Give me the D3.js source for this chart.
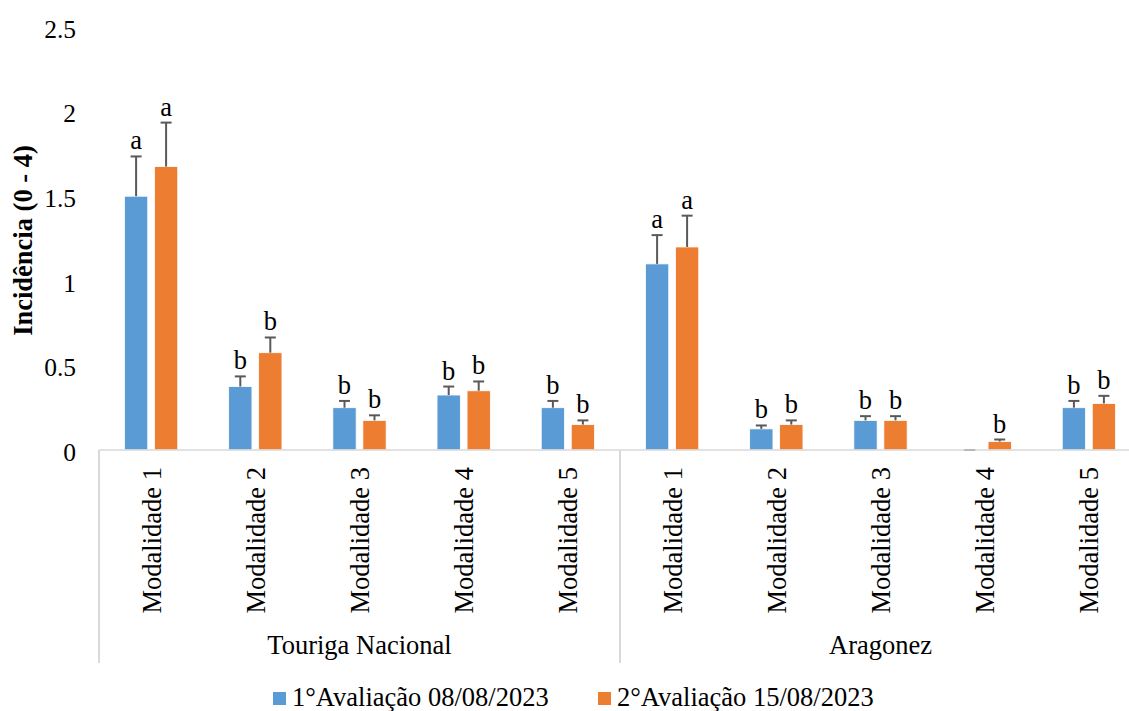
<!DOCTYPE html>
<html>
<head>
<meta charset="utf-8">
<script src="https://cdn.jsdelivr.net/npm/d3@7"></script>
<style>
  html, body { margin: 0; padding: 0; background: #fff; }
  svg { display: block; font-family: "Liberation Serif", "Times New Roman", serif; }
</style>
</head>
<body>
<svg id="chart" width="1129" height="711"></svg>
<script>
// Grupos (castas) e modalidades
const groups = ["Touriga Nacional", "Aragonez"];
const modalidades = ["Modalidade 1", "Modalidade 2", "Modalidade 3", "Modalidade 4", "Modalidade 5"];

// Séries
const seriesNames = ["1°Avaliação 08/08/2023", "2°Avaliação 15/08/2023"];
const seriesColors = ["#5B9BD5", "#ED7D31"];

// Médias de incidência (Touriga M1..M5, Aragonez M1..M5)
const aval1 = [1.5, 0.375, 0.25, 0.325, 0.25, 1.1, 0.125, 0.175, 0, 0.25];
const aval2 = [1.675, 0.575, 0.175, 0.35, 0.15, 1.2, 0.15, 0.175, 0.05, 0.275];

// Erro padrão
const err1 = [0.235, 0.06, 0.04, 0.05, 0.04, 0.17, 0.02, 0.025, 0, 0.04];
const err2 = [0.26, 0.09, 0.03, 0.055, 0.025, 0.185, 0.025, 0.025, 0.012, 0.045];

// Letras de significância
const letras1 = ["a", "b", "b", "b", "b", "a", "b", "b", "", "b"];
const letras2 = ["a", "b", "b", "b", "b", "a", "b", "b", "b", "b"];

// Eixo Y
const yTicks = [0, 0.5, 1, 1.5, 2, 2.5];
const yTitle = "Incidência (0 - 4)";

const svg = d3.select("#chart");
const fontSize = 26.5;
const tickFontSize = 25.5;

// Categorias combinadas grupo|modalidade
const cats = [];
groups.forEach(g => modalidades.forEach(m => cats.push({ group: g, mod: m, key: g + "|" + m })));

const plotLeft = 99, plotRight = 1141, plotBase = 450, plotTop = 27;
const x0 = d3.scaleBand().domain(cats.map(c => c.key)).range([plotLeft, plotRight]).padding(0);
const x1 = d3.scaleBand().domain([0, 1]).range([0, x0.bandwidth()]).paddingInner(0.223).paddingOuter(0.848);
const y = d3.scaleLinear().domain([0, 2.5]).range([plotBase, plotTop]);

const values = [aval1, aval2];
const errors = [err1, err2];
const letras = [letras1, letras2];

const rows = [];
cats.forEach((c, i) => {
  [0, 1].forEach(s => rows.push({ cat: c.key, s, v: values[s][i], e: errors[s][i], l: letras[s][i] }));
});

// Barras
svg.append("g").selectAll("rect").data(rows).join("rect")
  .attr("x", d => x0(d.cat) + x1(d.s))
  .attr("y", d => y(d.v))
  .attr("width", x1.bandwidth())
  .attr("height", d => plotBase - y(d.v))
  .attr("fill", d => seriesColors[d.s])
  .attr("stroke", "#fff")
  .attr("stroke-width", 0.8);

// Barras de erro (apenas positivas)
const eg = svg.append("g").attr("stroke", "#595959").attr("stroke-width", 2);
rows.forEach(d => {
  const cx = x0(d.cat) + x1(d.s) + x1.bandwidth() / 2;
  eg.append("line").attr("x1", cx).attr("x2", cx).attr("y1", y(d.v)).attr("y2", y(d.v + d.e));
  eg.append("line").attr("x1", cx - 5.5).attr("x2", cx + 5.5).attr("y1", y(d.v + d.e)).attr("y2", y(d.v + d.e));
});

// Letras
svg.append("g").selectAll("text").data(rows.filter(d => d.l)).join("text")
  .attr("x", d => x0(d.cat) + x1(d.s) + x1.bandwidth() / 2)
  .attr("y", d => y(d.v + d.e) - 7)
  .attr("text-anchor", "middle")
  .attr("font-size", fontSize)
  .attr("fill", "#000")
  .text(d => d.l);

// Eixo X: linha base e divisórias
const axisColor = "#d9d9d9";
svg.append("line").attr("x1", plotLeft).attr("x2", plotRight).attr("y1", plotBase).attr("y2", plotBase)
  .attr("stroke", axisColor).attr("stroke-width", 1.5);
const groupBounds = [plotLeft, x0(cats[5].key), plotRight];
groupBounds.forEach(bx => {
  svg.append("line").attr("x1", bx).attr("x2", bx).attr("y1", plotBase).attr("y2", 663)
    .attr("stroke", axisColor).attr("stroke-width", 2);
});

// Rótulos das modalidades (verticais)
svg.append("g").selectAll("text").data(cats).join("text")
  .attr("transform", d => `translate(${x0(d.key) + x0.bandwidth() / 2 + 9.5},467) rotate(-90)`)
  .attr("text-anchor", "end")
  .attr("font-size", fontSize)
  .attr("fill", "#000")
  .text(d => d.mod);

// Rótulos dos grupos
groups.forEach((g, i) => {
  const gx = (groupBounds[i] + groupBounds[i + 1]) / 2;
  svg.append("text").attr("x", gx).attr("y", 654)
    .attr("text-anchor", "middle").attr("font-size", fontSize).attr("fill", "#000").text(g);
});

// Eixo Y
const yAxis = d3.axisLeft(y).tickValues(yTicks).tickSize(0).tickPadding(0).tickFormat(d3.format("~g"));
const ya = svg.append("g").attr("transform", "translate(76,0)").call(yAxis);
ya.select(".domain").remove();
ya.selectAll("text").attr("font-size", tickFontSize).attr("font-family", "Liberation Serif").attr("fill", "#000").attr("dy", "0.4em");

svg.append("text")
  .attr("transform", `translate(32,${(plotTop + plotBase) / 2 + 2}) rotate(-90)`)
  .attr("text-anchor", "middle")
  .attr("font-size", 26.5)
  .attr("font-weight", "bold")
  .attr("fill", "#000")
  .text(yTitle);

// Legenda
const legend = svg.append("g");
const legendX = [273, 598];
seriesNames.forEach((n, i) => {
  legend.append("rect").attr("x", legendX[i]).attr("y", 692).attr("width", 13).attr("height", 13).attr("fill", seriesColors[i]);
  legend.append("text").attr("x", legendX[i] + 19).attr("y", 706).attr("font-size", fontSize).attr("fill", "#000").text(n);
});
</script>
</body>
</html>
